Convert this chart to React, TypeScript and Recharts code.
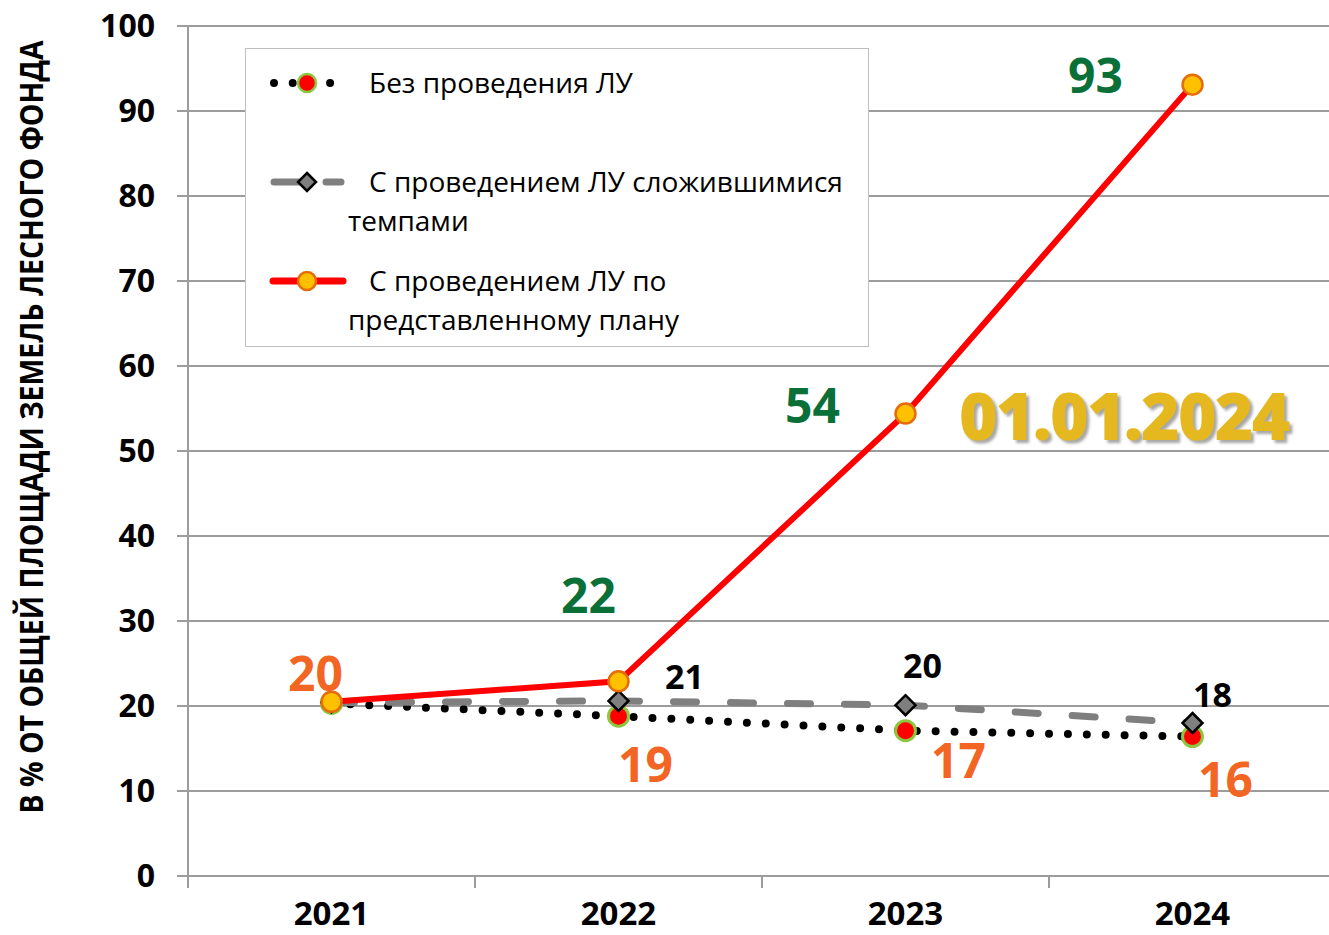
import { LineChart, Line, XAxis, YAxis, CartesianGrid, LabelList } from 'recharts';

const categories = ['2021', '2022', '2023', '2024'];
const noMeasures = [20.3, 18.8, 17.1, 16.4];
const currentPace = [20.4, 20.6, 20.1, 18.0];
const byPlan = [20.5, 22.9, 54.4, 93.1];
const noMeasuresLabels = ['20', '19', '17', '16'];
const currentPaceLabels = ['', '21', '20', '18'];
const byPlanLabels = ['', '22', '54', '93'];
const yTicks = [0, 10, 20, 30, 40, 50, 60, 70, 80, 90, 100];
const seriesNames = [
  'Без проведения ЛУ',
  'С проведением ЛУ сложившимися\nтемпами',
  'С проведением ЛУ по\nпредставленному плану',
];
const yTitle = 'В % ОТ ОБЩЕЙ ПЛОЩАДИ ЗЕМЕЛЬ ЛЕСНОГО ФОНДА';
const dateNote = '01.01.2024';

const FONT = '"Open Sans", "Noto Sans", sans-serif';
const GRID = '#9c9c9c';
const ORANGE_TXT = '#f26522';
const GREEN_TXT = '#0a7038';

// label offsets from each point (label centre)
const noMeasuresOffsets = [[-16, -31], [27, 47], [53, 29], [33, 42]];
const currentPaceOffsets = [[0, 0], [66, -25], [17, -40], [20, -29]];
const byPlanOffsets = [[0, 0], [-30, -87], [-93, -9], [-97, -10]];

const data = categories.map((c, i) => ({
  x: i + 0.5,
  cat: c,
  a: noMeasures[i],
  b: currentPace[i],
  c: byPlan[i],
}));

const xTicks = [0, 0.5, 1, 1.5, 2, 2.5, 3, 3.5, 4];

function makeLabel(texts: string[], offsets: number[][], color: string, size: number) {
  // eslint-disable-next-line @typescript-eslint/no-explicit-any
  return (props: any) => {
    const { x, y, index } = props;
    const t = texts[index];
    if (!t) return null;
    const [dx, dy] = offsets[index];
    return (
      <text
        key={`lbl-${index}`}
        x={x + dx}
        y={y + dy}
        textAnchor="middle"
        dominantBaseline="central"
        fill={color}
        fontSize={size}
        fontWeight={700}
        fontFamily={FONT}
      >
        {t}
      </text>
    );
  };
}

// eslint-disable-next-line @typescript-eslint/no-explicit-any
function RedDot(props: any) {
  const { cx, cy } = props;
  return <circle cx={cx} cy={cy} r={10} fill="#ff0000" stroke="#8dc63f" strokeWidth={3} />;
}

// eslint-disable-next-line @typescript-eslint/no-explicit-any
function Diamond(props: any) {
  const { cx, cy } = props;
  const s = 10;
  return (
    <path
      d={`M${cx},${cy - s} L${cx + s},${cy} L${cx},${cy + s} L${cx - s},${cy} Z`}
      fill="#7f7f7f"
      stroke="#000"
      strokeWidth={2.5}
    />
  );
}

// eslint-disable-next-line @typescript-eslint/no-explicit-any
function OrangeDot(props: any) {
  const { cx, cy } = props;
  return <circle cx={cx} cy={cy} r={10} fill="#ffc000" stroke="#e46c0a" strokeWidth={2.5} />;
}

// ticks at band edges, year labels at band centres
// eslint-disable-next-line @typescript-eslint/no-explicit-any
function XTick(props: any) {
  const { x, y, payload } = props;
  const v = payload.value;
  if (Number.isInteger(v)) {
    return <line x1={x} x2={x} y1={y} y2={y + 12} stroke={GRID} strokeWidth={2} />;
  }
  return (
    <text x={x} y={y + 49} textAnchor="middle" fontSize={33} fontWeight={700} fill="#000" fontFamily={FONT}>
      {categories[Math.floor(v)]}
    </text>
  );
}

function LegendIcon({ kind }: { kind: number }) {
  return (
    <svg width={84} height={24} style={{ position: 'absolute', left: 262 - 245, top: -12 }}>
      {kind === 0 && (
        <>
          <line x1={11} x2={68} y1={12} y2={12} stroke="#000" strokeWidth={8} strokeDasharray="0 18.7" strokeLinecap="round" />
          <circle cx={44} cy={12} r={9} fill="#ff0000" stroke="#8dc63f" strokeWidth={2.5} />
        </>
      )}
      {kind === 1 && (
        <>
          <line x1={11} x2={78} y1={12} y2={12} stroke="#7f7f7f" strokeWidth={7} strokeDasharray="26 26" strokeLinecap="round" />
          <path d="M44,3 L53,12 L44,21 L35,12 Z" fill="#7f7f7f" stroke="#000" strokeWidth={2.5} />
        </>
      )}
      {kind === 2 && (
        <>
          <line x1={10} x2={80} y1={12} y2={12} stroke="#ff0000" strokeWidth={7} strokeLinecap="round" />
          <circle cx={44} cy={12} r={9} fill="#ffc000" stroke="#e46c0a" strokeWidth={2.5} />
        </>
      )}
    </svg>
  );
}

export default function App() {
  const rowCentres = [82, 181, 280];
  return (
    <div
      style={{
        position: 'absolute',
        left: 0,
        top: 0,
        width: 1329,
        height: 935,
        overflow: 'hidden',
        background: '#fff',
        fontFamily: FONT,
      }}
    >
      <LineChart width={1340} height={935} data={data} margin={{ top: 26, right: 4, bottom: 0, left: 0 }}>
        <CartesianGrid vertical={false} stroke={GRID} strokeWidth={2} />
        <XAxis
          dataKey="x"
          type="number"
          domain={[0, 4]}
          ticks={xTicks}
          interval={0}
          height={59}
          tickSize={0}
          tickMargin={0}
          tickLine={false}
          axisLine={{ stroke: GRID, strokeWidth: 2 }}
          tick={<XTick />}
        />
        <YAxis
          type="number"
          domain={[0, 100]}
          ticks={yTicks}
          interval={0}
          width={188}
          tickSize={11}
          tickMargin={22}
          tickLine={{ stroke: GRID, strokeWidth: 2 }}
          axisLine={{ stroke: GRID, strokeWidth: 2 }}
          tick={{ fontSize: 32, fontWeight: 700, fill: '#000', fontFamily: FONT }}
        />
        <Line
          dataKey="a"
          stroke="#000"
          strokeWidth={8}
          strokeDasharray="0 18.9"
          strokeLinecap="round"
          isAnimationActive={false}
          dot={(p) => <RedDot key={`a-${p.index}`} {...p} />}
          activeDot={false}
        >
          <LabelList dataKey="a" content={makeLabel(noMeasuresLabels, noMeasuresOffsets, ORANGE_TXT, 48)} />
        </Line>
        <Line
          dataKey="b"
          stroke="#7f7f7f"
          strokeWidth={7}
          strokeDasharray="23 34"
          strokeLinecap="round"
          isAnimationActive={false}
          dot={(p) => <Diamond key={`b-${p.index}`} {...p} />}
          activeDot={false}
        >
          <LabelList dataKey="b" content={makeLabel(currentPaceLabels, currentPaceOffsets, '#000', 34)} />
        </Line>
        <Line
          dataKey="c"
          stroke="#ff0000"
          strokeWidth={6}
          isAnimationActive={false}
          dot={(p) => <OrangeDot key={`c-${p.index}`} {...p} />}
          activeDot={false}
        >
          <LabelList dataKey="c" content={makeLabel(byPlanLabels, byPlanOffsets, GREEN_TXT, 48)} />
        </Line>
      </LineChart>

      {/* legend box */}
      <div
        style={{
          position: 'absolute',
          left: 245,
          top: 48,
          width: 622,
          height: 297,
          border: '1px solid #bfbfbf',
          background: '#fff',
        }}
      >
        {seriesNames.map((name, i) => (
          <div key={name} style={{ position: 'absolute', left: 0, top: rowCentres[i] - 48, width: 620 }}>
            <LegendIcon kind={i} />
            <div
              style={{
                position: 'absolute',
                left: 347 - 245,
                top: -20,
                width: 515,
                fontSize: 28,
                lineHeight: '39px',
                textIndent: 21,
                whiteSpace: 'pre-line',
                color: '#000',
              }}
            >
              {name}
            </div>
          </div>
        ))}
      </div>

      {/* date note */}
      <div
        style={{
          position: 'absolute',
          left: 959,
          top: 381,
          fontSize: 66,
          lineHeight: '66px',
          fontWeight: 800,
          letterSpacing: -1.8,
          color: '#e6b820',
          textShadow: '3px 3px 3px rgba(0,0,0,0.35)',
          whiteSpace: 'nowrap',
        }}
      >
        {dateNote}
      </div>

      {/* y axis title */}
      <svg width={70} height={935} style={{ position: 'absolute', left: 0, top: 0 }}>
        <text
          transform="translate(43,427) rotate(-90)"
          textAnchor="middle"
          fontSize={33}
          fontWeight={700}
          fontFamily={FONT}
          fill="#000"
          textLength={773}
          lengthAdjust="spacingAndGlyphs"
        >
          {yTitle}
        </text>
      </svg>
    </div>
  );
}
